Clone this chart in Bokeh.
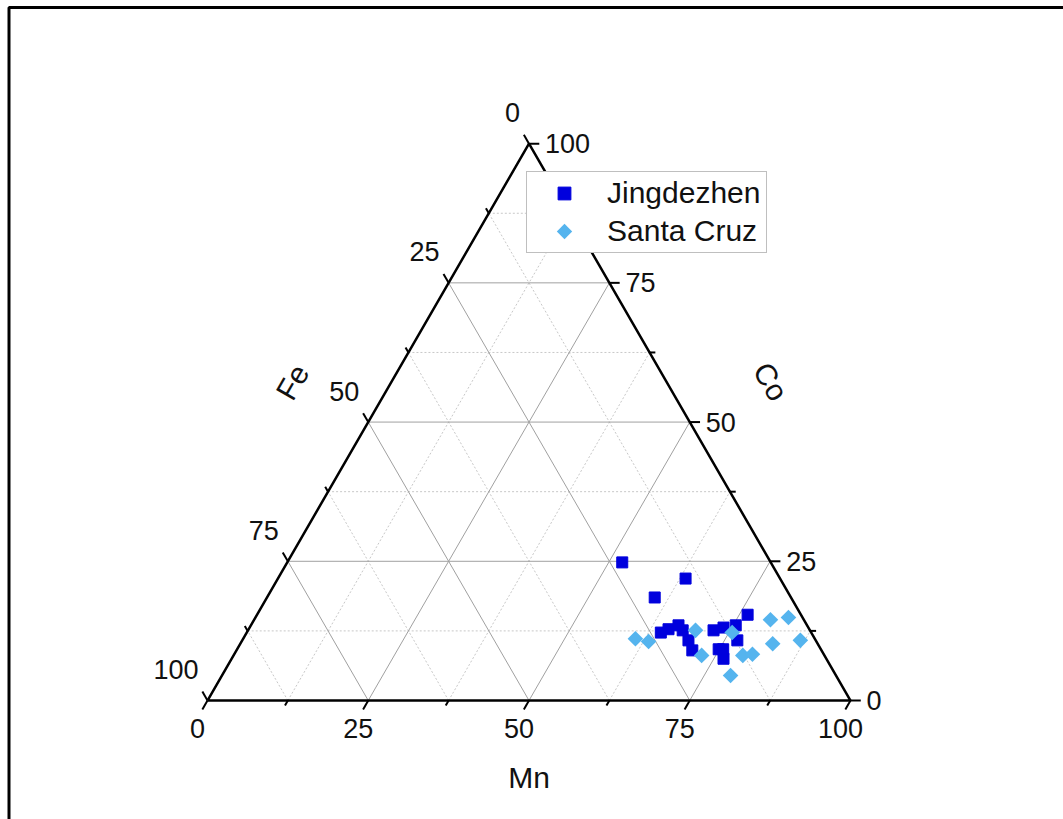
import numpy as np
from bokeh.plotting import figure
from bokeh.models import Range1d, Legend, LegendItem, CustomJS
from bokeh.embed import file_html
from bokeh.resources import INLINE
from bokeh.core.properties import value

# ---------------- data (ternary %, Mn / Co / Fe) ----------------
jing_mn = [52.1, 63.4, 60.3, 76.3, 64.4, 65.3, 66.5, 67.6, 69.4, 70.9, 72.4, 73.7, 75.4, 77.0, 74.9, 75.6, 76.5]
jing_co = [24.8, 21.9, 18.5, 15.4, 12.2, 12.8, 13.5, 12.6, 10.8, 9.0, 12.6, 13.1, 13.5, 10.8, 9.2, 9.2, 7.5]
jing_fe = [round(100 - a - b, 1) for a, b in zip(jing_mn, jing_co)]

santa_mn = [61.0, 63.3, 69.6, 72.8, 75.5, 79.2, 80.6, 79.1, 80.3, 82.9, 82.8, 86.8]
santa_co = [11.1, 10.6, 12.6, 8.1, 12.2, 8.1, 8.3, 4.5, 14.5, 14.9, 10.2, 10.8]
santa_fe = [round(100 - a - b, 1) for a, b in zip(santa_mn, santa_co)]

tick_vals = [0, 25, 50, 75, 100]
tick_labels = ["0", "25", "50", "75", "100"]
minor_vals = [12.5, 37.5, 62.5, 87.5]
major_grid = [25, 50, 75]

series_names = ["Jingdezhen", "Santa Cruz"]
series_colors = ["#0000DD", "#55B4EE"]

FONT = "Liberation Sans"
TXT = "#111111"
S3 = np.sqrt(3) / 2


def tern(mn, co, fe):
    mn = np.asarray(mn, float)
    co = np.asarray(co, float)
    fe = np.asarray(fe, float)
    t = mn + co + fe
    return (mn + co / 2) / t * 100, co / t * 100 * S3


PX = 6.43  # pixels per unit
W, H = 1063, 819
x0 = -207 / PX
y1 = 700 / PX
y0 = y1 - H / PX
p = figure(width=W, height=H, output_backend="svg", toolbar_location=None,
           x_range=Range1d(x0, x0 + W / PX), y_range=Range1d(y0, y1),
           x_axis_type=None, y_axis_type=None, min_border=0)
p.grid.visible = False
p.outline_line_color = None
p.background_fill_color = "white"

# outer frame (left and top edges visible)
bl = x0 + 8.5 / PX
bt = y1 - 7 / PX
p.line([bl, bl, x0 + W / PX], [y0, bt, bt], line_color="black", line_width=3)


# grid lines
def grid_lines(vals):
    xs, ys = [], []
    for v in vals:
        a = tern([0, 100 - v], [v, v], [100 - v, 0])      # constant Co
        b = tern([v, v], [0, 100 - v], [100 - v, 0])      # constant Mn
        c = tern([100 - v, 0], [0, 100 - v], [v, v])      # constant Fe
        for g in (a, b, c):
            xs.append(list(g[0]))
            ys.append(list(g[1]))
    return xs, ys


mxs, mys = grid_lines(minor_vals)
p.multi_line(mxs, mys, line_color="#C8C8C8", line_width=1, line_dash="2 2")
gxs, gys = grid_lines(major_grid)
p.multi_line(gxs, gys, line_color="#A0A0A0", line_width=1)

# ticks
txs, tys = [], []
for v in tick_vals + minor_vals:
    L = 1.6 if v in tick_vals else 0.9
    bx, by = tern([v], [0], [100 - v])          # bottom (Mn)
    txs.append([bx[0], bx[0] - 0.5 * L]); tys.append([by[0], by[0] - S3 * L])
    rx, ry = tern([100 - v], [v], [0])          # right (Co)
    txs.append([rx[0], rx[0] + L]); tys.append([ry[0], ry[0]])
    lx, ly = tern([0], [100 - v], [v])          # left (Fe)
    txs.append([lx[0], lx[0] - 0.5 * L]); tys.append([ly[0], ly[0] + S3 * L])
p.multi_line(txs, tys, line_color="black", line_width=2)

# triangle edges
ex, ey = tern([0, 100, 0, 0], [0, 0, 100, 0], [100, 0, 0, 100])
p.line(list(ex), list(ey), line_color="black", line_width=2.5)

# tick labels
vals = np.array(tick_vals, float)
bx, by = tern(vals, 0 * vals, 100 - vals)
p.text(x=list(bx - 10 / PX), y=list(by - 28 / PX), text=tick_labels, text_align="center",
       text_baseline="middle", text_font=value(FONT), text_font_size="27px", text_color=TXT)
rx, ry = tern(100 - vals, vals, 0 * vals)
p.text(x=list(rx + 16 / PX), y=list(ry), text=tick_labels, text_align="left",
       text_baseline="middle", text_font=value(FONT), text_font_size="27px", text_color=TXT)
lx, ly = tern(0 * vals, 100 - vals, vals)
p.text(x=list(lx - 9 / PX), y=list(ly + 31 / PX), text=tick_labels, text_align="right",
       text_baseline="middle", text_font=value(FONT), text_font_size="27px", text_color=TXT)

# axis titles
p.text(x=[50], y=[-77 / PX], text=["Mn"], text_align="center", text_baseline="middle",
       text_font=value(FONT), text_font_size="30px", text_color=TXT)
p.text(x=[25 - 11.8], y=[50 * S3 + 6.2], text=["Fe"], angle=np.pi / 3,
       text_align="center", text_baseline="middle",
       text_font=value(FONT), text_font_size="30px", text_color=TXT)
p.text(x=[75 + 12.6], y=[50 * S3 + 6.3], text=["Co"], angle=-np.pi / 3,
       text_align="center", text_baseline="middle",
       text_font=value(FONT), text_font_size="30px", text_color=TXT)

# custom equal-sided diamond marker (also used for the legend key)
rhomb_js = CustomJS(code="""
var a = arguments;
var ctx = null, i = 0, r = 7, vis = null;
for (var k = 0; k < a.length; k++) {
  var o = a[k];
  if (o && o.ctx) { ctx = o.ctx; i = o.i; r = o.r; vis = o.visuals; break; }
}
if (!ctx && a[0] && typeof a[0].moveTo === 'function') { ctx = a[0]; i = a[1]; r = a[2]; vis = a[3]; }
if (ctx) {
  var R = 1.2 * r;
  ctx.moveTo(0, -R); ctx.lineTo(R, 0); ctx.lineTo(0, R); ctx.lineTo(-R, 0); ctx.closePath();
  var done = false;
  try {
    if (vis && vis.fill && vis.fill.apply) { vis.fill.apply(ctx, i); done = true; }
  } catch (e) { done = false; }
  if (!done) { ctx.fillStyle = '#55B4EE'; ctx.fill(); }
}
""")

# data
jx, jy = tern(jing_mn, jing_co, jing_fe)
sx, sy = tern(santa_mn, santa_co, santa_fe)
r1 = p.scatter(list(jx), list(jy), marker="square", size=11,
               fill_color=series_colors[0], line_color=series_colors[0])
r2 = p.scatter(list(sx), list(sy), marker="@rhomb", size=13, defs={"@rhomb": rhomb_js},
               fill_color=series_colors[1], line_color=series_colors[1])

legend = Legend(items=[LegendItem(label=series_names[0], renderers=[r1]),
                       LegendItem(label=series_names[1], renderers=[r2])],
                location=(526, 566), orientation="vertical",
                label_text_font=FONT, label_text_font_size="30px", label_text_color=TXT,
                label_height=34, glyph_height=32, glyph_width=66, label_standoff=10,
                label_width=155, spacing=4, padding=4, margin=0,
                border_line_color="#808080", border_line_width=1.5,
                background_fill_color="white", background_fill_alpha=1.0)
p.add_layout(legend, "center")

open("out.html", "w").write(file_html(p, INLINE))
